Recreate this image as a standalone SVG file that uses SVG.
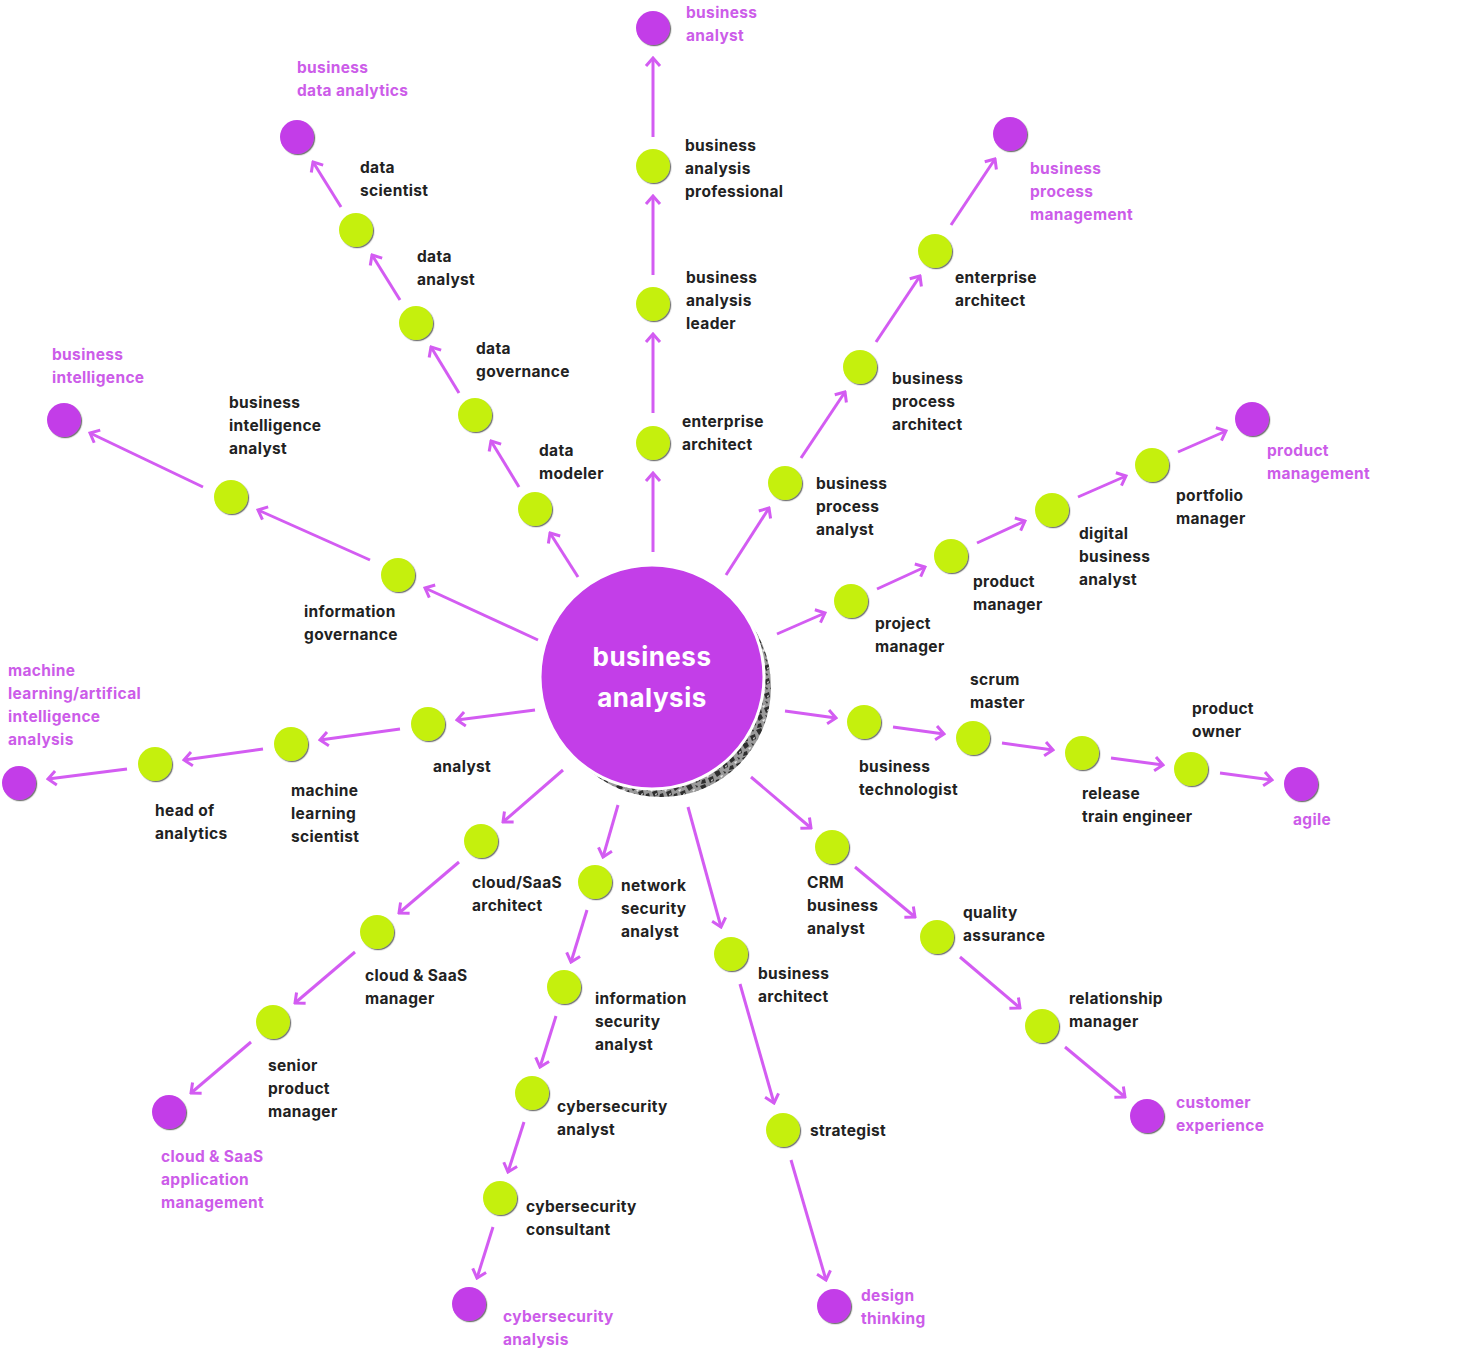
<svg xmlns="http://www.w3.org/2000/svg" width="1460" height="1351" viewBox="0 0 1460 1351">
<style>
.t{font-family:Inter,"Noto Sans","Liberation Sans",sans-serif;font-weight:700;font-size:15.5px;letter-spacing:0.35px;fill:#222;}
.p{font-family:Inter,"Noto Sans","Liberation Sans",sans-serif;font-weight:700;font-size:15.5px;letter-spacing:0.35px;fill:#cc5ce9;}
.c{font-family:Inter,"Noto Sans","Liberation Sans",sans-serif;font-weight:700;font-size:26px;letter-spacing:0.5px;fill:#fff;}
.g{fill:#c5f00c;filter:url(#sh);}
.m{fill:#c33ee8;filter:url(#sh);}
.a{stroke:#d35cf2;stroke-width:3;fill:none;marker-end:url(#ah);}
</style>
<defs>
<filter id="sh" x="-20%" y="-20%" width="150%" height="150%">
<feDropShadow dx="1.2" dy="1.2" stdDeviation="0.4" flood-color="#555" flood-opacity="0.8"/>
</filter>
<marker id="ah" markerUnits="userSpaceOnUse" viewBox="-12 -10 14 20" markerWidth="14" markerHeight="20" refX="0" refY="0" orient="auto">
<path d="M-8,-7 L0,0 L-8,7" fill="none" stroke="#d35cf2" stroke-width="3"/>
</marker>
<pattern id="mot" patternUnits="userSpaceOnUse" width="14" height="14">
<rect width="14" height="14" fill="#9a9a9a"/>
<path d="M0,2 L5,0 L7,4 L3,7 Z M8,8 L13,6 L14,11 L10,13 Z M2,10 L5,9 L6,13 L1,14 Z M9,1 L12,2 L11,4 Z" fill="#2e2e2e"/>
<path d="M6,6 L9,5 L8,8 Z M11,10 L13,9 L12,12 Z" fill="#e8e8e8"/>
</pattern>
</defs>

<g id="connectors">
<line class="a" x1="653" y1="552" x2="653" y2="473"/>
<line class="a" x1="653" y1="413" x2="653" y2="334"/>
<line class="a" x1="653" y1="275" x2="653" y2="196"/>
<line class="a" x1="653" y1="137" x2="653" y2="58"/>

<line class="a" x1="578" y1="577" x2="550" y2="533"/>
<line class="a" x1="519" y1="487" x2="491" y2="441"/>
<line class="a" x1="459" y1="393" x2="431" y2="347"/>
<line class="a" x1="400" y1="300" x2="372" y2="255"/>
<line class="a" x1="341" y1="207" x2="313" y2="162"/>

<line class="a" x1="538" y1="640" x2="425" y2="588"/>
<line class="a" x1="370" y1="560" x2="258" y2="510"/>
<line class="a" x1="203" y1="487" x2="90" y2="433"/>

<line class="a" x1="535" y1="710" x2="457" y2="720"/>
<line class="a" x1="400" y1="729" x2="320" y2="740"/>
<line class="a" x1="263" y1="749" x2="184" y2="760"/>
<line class="a" x1="127" y1="769" x2="48" y2="779"/>

<line class="a" x1="563" y1="770" x2="503" y2="822"/>
<line class="a" x1="459" y1="862" x2="399" y2="913"/>
<line class="a" x1="355" y1="952" x2="295" y2="1003"/>
<line class="a" x1="251" y1="1042" x2="191" y2="1093"/>

<line class="a" x1="618" y1="805" x2="603" y2="857"/>
<line class="a" x1="587" y1="910" x2="571" y2="962"/>
<line class="a" x1="556" y1="1016" x2="540" y2="1067"/>
<line class="a" x1="524" y1="1122" x2="508" y2="1172"/>
<line class="a" x1="493" y1="1227" x2="477" y2="1278"/>

<line class="a" x1="688" y1="807" x2="721" y2="927"/>
<line class="a" x1="740" y1="984" x2="774" y2="1103"/>
<line class="a" x1="791" y1="1160" x2="826" y2="1280"/>

<line class="a" x1="751" y1="777" x2="811" y2="828"/>
<line class="a" x1="855" y1="867" x2="915" y2="917"/>
<line class="a" x1="960" y1="957" x2="1020" y2="1008"/>
<line class="a" x1="1065" y1="1047" x2="1125" y2="1097"/>

<line class="a" x1="785" y1="711" x2="836" y2="718"/>
<line class="a" x1="893" y1="727" x2="944" y2="734"/>
<line class="a" x1="1002" y1="743" x2="1053" y2="750"/>
<line class="a" x1="1111" y1="758" x2="1163" y2="765"/>
<line class="a" x1="1220" y1="773" x2="1272" y2="780"/>

<line class="a" x1="777" y1="634" x2="825" y2="613"/>
<line class="a" x1="877" y1="589" x2="925" y2="567"/>
<line class="a" x1="977" y1="543" x2="1025" y2="521"/>
<line class="a" x1="1078" y1="497" x2="1126" y2="476"/>
<line class="a" x1="1178" y1="452" x2="1226" y2="431"/>

<line class="a" x1="726" y1="575" x2="769" y2="508"/>
<line class="a" x1="801" y1="458" x2="845" y2="392"/>
<line class="a" x1="876" y1="342" x2="920" y2="276"/>
<line class="a" x1="951" y1="225" x2="995" y2="159"/>
</g>

<g id="center">
<circle cx="661" cy="687" r="110" fill="url(#mot)"/>
<circle cx="652" cy="677" r="112" fill="#c33ee8" stroke="#fff" stroke-width="3"/>
<text class="c" x="652" y="666" text-anchor="middle">business</text>
<text class="c" x="652" y="707" text-anchor="middle">analysis</text>
</g>

<g id="n-enterprise-architect-1"><circle class="g" cx="653" cy="443" r="17"/><text class="t" x="682"><tspan x="682" y="427">enterprise</tspan><tspan x="682" y="450">architect</tspan></text></g>
<g id="n-ba-leader"><circle class="g" cx="653" cy="304" r="17"/><text class="t"><tspan x="686" y="283">business</tspan><tspan x="686" y="306">analysis</tspan><tspan x="686" y="329">leader</tspan></text></g>
<g id="n-ba-professional"><circle class="g" cx="653" cy="166" r="17"/><text class="t"><tspan x="685" y="151">business</tspan><tspan x="685" y="174">analysis</tspan><tspan x="685" y="197">professional</tspan></text></g>
<g id="n-business-analyst"><circle class="m" cx="653" cy="28" r="17"/><text class="p"><tspan x="686" y="18">business</tspan><tspan x="686" y="41">analyst</tspan></text></g>

<g id="n-data-modeler"><circle class="g" cx="535" cy="509" r="17"/><text class="t"><tspan x="539" y="456">data</tspan><tspan x="539" y="479">modeler</tspan></text></g>
<g id="n-data-governance"><circle class="g" cx="475" cy="415" r="17"/><text class="t"><tspan x="476" y="354">data</tspan><tspan x="476" y="377">governance</tspan></text></g>
<g id="n-data-analyst"><circle class="g" cx="416" cy="323" r="17"/><text class="t"><tspan x="417" y="262">data</tspan><tspan x="417" y="285">analyst</tspan></text></g>
<g id="n-data-scientist"><circle class="g" cx="356" cy="230" r="17"/><text class="t"><tspan x="360" y="173">data</tspan><tspan x="360" y="196">scientist</tspan></text></g>
<g id="n-business-data-analytics"><circle class="m" cx="297" cy="137" r="17"/><text class="p"><tspan x="297" y="73">business</tspan><tspan x="297" y="96">data analytics</tspan></text></g>

<g id="n-information-governance"><circle class="g" cx="398" cy="575" r="17"/><text class="t"><tspan x="304" y="617">information</tspan><tspan x="304" y="640">governance</tspan></text></g>
<g id="n-bi-analyst"><circle class="g" cx="231" cy="497" r="17"/><text class="t"><tspan x="229" y="408">business</tspan><tspan x="229" y="431">intelligence</tspan><tspan x="229" y="454">analyst</tspan></text></g>
<g id="n-business-intelligence"><circle class="m" cx="64" cy="420" r="17"/><text class="p"><tspan x="52" y="360">business</tspan><tspan x="52" y="383">intelligence</tspan></text></g>

<g id="n-analyst"><circle class="g" cx="428" cy="724" r="17"/><text class="t" x="433" y="772">analyst</text></g>
<g id="n-ml-scientist"><circle class="g" cx="291" cy="744" r="17"/><text class="t"><tspan x="291" y="796">machine</tspan><tspan x="291" y="819">learning</tspan><tspan x="291" y="842">scientist</tspan></text></g>
<g id="n-head-of-analytics"><circle class="g" cx="155" cy="764" r="17"/><text class="t"><tspan x="155" y="816">head of</tspan><tspan x="155" y="839">analytics</tspan></text></g>
<g id="n-ml-ai-analysis"><circle class="m" cx="19" cy="783" r="17"/><text class="p"><tspan x="8" y="676">machine</tspan><tspan x="8" y="699">learning/artifical</tspan><tspan x="8" y="722">intelligence</tspan><tspan x="8" y="745">analysis</tspan></text></g>

<g id="n-cloud-architect"><circle class="g" cx="481" cy="841" r="17"/><text class="t"><tspan x="472" y="888">cloud/SaaS</tspan><tspan x="472" y="911">architect</tspan></text></g>
<g id="n-cloud-manager"><circle class="g" cx="377" cy="932" r="17"/><text class="t"><tspan x="365" y="981">cloud &amp; SaaS</tspan><tspan x="365" y="1004">manager</tspan></text></g>
<g id="n-senior-product-manager"><circle class="g" cx="273" cy="1022" r="17"/><text class="t"><tspan x="268" y="1071">senior</tspan><tspan x="268" y="1094">product</tspan><tspan x="268" y="1117">manager</tspan></text></g>
<g id="n-cloud-app-mgmt"><circle class="m" cx="169" cy="1112" r="17"/><text class="p"><tspan x="161" y="1162">cloud &amp; SaaS</tspan><tspan x="161" y="1185">application</tspan><tspan x="161" y="1208">management</tspan></text></g>

<g id="n-network-security-analyst"><circle class="g" cx="595" cy="882" r="17"/><text class="t"><tspan x="621" y="891">network</tspan><tspan x="621" y="914">security</tspan><tspan x="621" y="937">analyst</tspan></text></g>
<g id="n-info-security-analyst"><circle class="g" cx="564" cy="987" r="17"/><text class="t"><tspan x="595" y="1004">information</tspan><tspan x="595" y="1027">security</tspan><tspan x="595" y="1050">analyst</tspan></text></g>
<g id="n-cybersecurity-analyst"><circle class="g" cx="532" cy="1093" r="17"/><text class="t"><tspan x="557" y="1112">cybersecurity</tspan><tspan x="557" y="1135">analyst</tspan></text></g>
<g id="n-cybersecurity-consultant"><circle class="g" cx="500" cy="1198" r="17"/><text class="t"><tspan x="526" y="1212">cybersecurity</tspan><tspan x="526" y="1235">consultant</tspan></text></g>
<g id="n-cybersecurity-analysis"><circle class="m" cx="469" cy="1304" r="17"/><text class="p"><tspan x="503" y="1322">cybersecurity</tspan><tspan x="503" y="1345">analysis</tspan></text></g>

<g id="n-business-architect"><circle class="g" cx="731" cy="954" r="17"/><text class="t"><tspan x="758" y="979">business</tspan><tspan x="758" y="1002">architect</tspan></text></g>
<g id="n-strategist"><circle class="g" cx="783" cy="1130" r="17"/><text class="t" x="810" y="1136">strategist</text></g>
<g id="n-design-thinking"><circle class="m" cx="834" cy="1306" r="17"/><text class="p"><tspan x="861" y="1301">design</tspan><tspan x="861" y="1324">thinking</tspan></text></g>

<g id="n-crm-ba"><circle class="g" cx="832" cy="847" r="17"/><text class="t"><tspan x="807" y="888">CRM</tspan><tspan x="807" y="911">business</tspan><tspan x="807" y="934">analyst</tspan></text></g>
<g id="n-quality-assurance"><circle class="g" cx="937" cy="937" r="17"/><text class="t"><tspan x="963" y="918">quality</tspan><tspan x="963" y="941">assurance</tspan></text></g>
<g id="n-relationship-manager"><circle class="g" cx="1042" cy="1026" r="17"/><text class="t"><tspan x="1069" y="1004">relationship</tspan><tspan x="1069" y="1027">manager</tspan></text></g>
<g id="n-customer-experience"><circle class="m" cx="1147" cy="1116" r="17"/><text class="p"><tspan x="1176" y="1108">customer</tspan><tspan x="1176" y="1131">experience</tspan></text></g>

<g id="n-business-technologist"><circle class="g" cx="864" cy="722" r="17"/><text class="t"><tspan x="859" y="772">business</tspan><tspan x="859" y="795">technologist</tspan></text></g>
<g id="n-scrum-master"><circle class="g" cx="973" cy="738" r="17"/><text class="t"><tspan x="970" y="685">scrum</tspan><tspan x="970" y="708">master</tspan></text></g>
<g id="n-release-train-engineer"><circle class="g" cx="1082" cy="753" r="17"/><text class="t"><tspan x="1082" y="799">release</tspan><tspan x="1082" y="822">train engineer</tspan></text></g>
<g id="n-product-owner"><circle class="g" cx="1191" cy="769" r="17"/><text class="t"><tspan x="1192" y="714">product</tspan><tspan x="1192" y="737">owner</tspan></text></g>
<g id="n-agile"><circle class="m" cx="1301" cy="784" r="17"/><text class="p" x="1293" y="825">agile</text></g>

<g id="n-project-manager"><circle class="g" cx="851" cy="601" r="17"/><text class="t"><tspan x="875" y="629">project</tspan><tspan x="875" y="652">manager</tspan></text></g>
<g id="n-product-manager"><circle class="g" cx="951" cy="556" r="17"/><text class="t"><tspan x="973" y="587">product</tspan><tspan x="973" y="610">manager</tspan></text></g>
<g id="n-digital-ba"><circle class="g" cx="1052" cy="510" r="17"/><text class="t"><tspan x="1079" y="539">digital</tspan><tspan x="1079" y="562">business</tspan><tspan x="1079" y="585">analyst</tspan></text></g>
<g id="n-portfolio-manager"><circle class="g" cx="1152" cy="465" r="17"/><text class="t"><tspan x="1176" y="501">portfolio</tspan><tspan x="1176" y="524">manager</tspan></text></g>
<g id="n-product-management"><circle class="m" cx="1252" cy="419" r="17"/><text class="p"><tspan x="1267" y="456">product</tspan><tspan x="1267" y="479">management</tspan></text></g>

<g id="n-bp-analyst"><circle class="g" cx="785" cy="483" r="17"/><text class="t"><tspan x="816" y="489">business</tspan><tspan x="816" y="512">process</tspan><tspan x="816" y="535">analyst</tspan></text></g>
<g id="n-bp-architect"><circle class="g" cx="860" cy="367" r="17"/><text class="t"><tspan x="892" y="384">business</tspan><tspan x="892" y="407">process</tspan><tspan x="892" y="430">architect</tspan></text></g>
<g id="n-enterprise-architect-2"><circle class="g" cx="935" cy="251" r="17"/><text class="t"><tspan x="955" y="283">enterprise</tspan><tspan x="955" y="306">architect</tspan></text></g>
<g id="n-bpm"><circle class="m" cx="1010" cy="134" r="17"/><text class="p"><tspan x="1030" y="174">business</tspan><tspan x="1030" y="197">process</tspan><tspan x="1030" y="220">management</tspan></text></g>
</svg>
